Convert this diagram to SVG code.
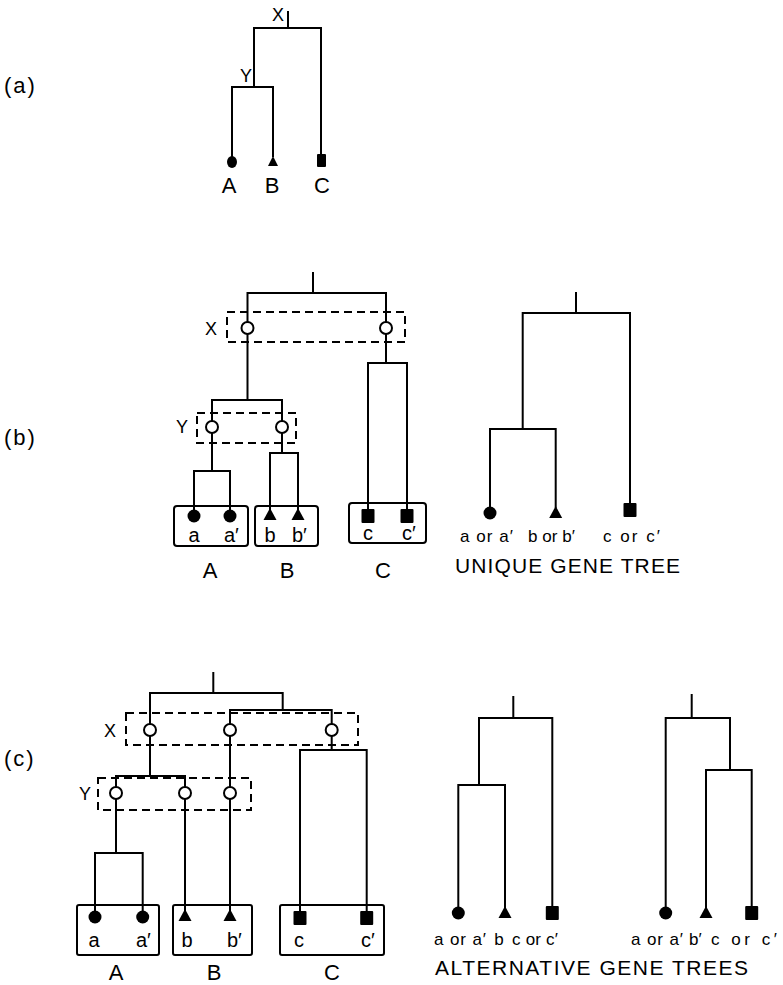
<svg xmlns="http://www.w3.org/2000/svg" xmlns:xlink="http://www.w3.org/1999/xlink" width="783" height="985" viewBox="0 0 783 985">
<style>
.ln{fill:none;stroke:#000;stroke-width:2;stroke-linecap:square}
.dash{fill:none;stroke:#000;stroke-width:2;stroke-dasharray:8 5}
.box{fill:none;stroke:#000;stroke-width:2}
.t{font-family:"Liberation Sans","DejaVu Sans",sans-serif;font-size:22px;fill:#000}
.cap{font-family:"Liberation Sans","DejaVu Sans",sans-serif;font-size:21px;fill:#000}
.n{font-family:"Liberation Sans","DejaVu Sans",sans-serif;font-size:18px;fill:#000}
.s{font-family:"Liberation Sans","DejaVu Sans",sans-serif;font-size:20px;fill:#000}
.g{font-family:"Liberation Sans","DejaVu Sans",sans-serif;font-size:17px;fill:#000}
.m{text-anchor:middle}
</style>
<defs>
<circle id="dot" r="6.5" fill="#000"/>
<path id="tri" d="M0,-7 L6.5,5 H-6.5 Z" fill="#000"/>
<rect id="sq" x="-6.5" y="-7" width="13" height="14" rx="1" fill="#000"/>
<circle id="oc" r="6" fill="#fff" stroke="#000" stroke-width="2"/>
</defs>
<rect width="783" height="985" fill="#fff"/>

<!-- panel labels -->
<text class="t" x="4" y="93" letter-spacing="2">(a)</text>
<text class="t" x="4" y="445" letter-spacing="2">(b)</text>
<text class="t" x="4" y="766" letter-spacing="2">(c)</text>

<!-- ===== (a) ===== -->
<g id="a-connectors">
<path class="ln" d="M288,12 V28"/>
<path class="ln" d="M254,87 V28 H321 V155"/>
<path class="ln" d="M232,157 V87 H273 V156"/>
</g>
<g id="a-X"><text class="n m" x="278" y="21">X</text></g>
<g id="a-Y"><text class="n m" x="246" y="82">Y</text></g>
<g id="a-A"><ellipse cx="232" cy="162" rx="5" ry="6" fill="#000"/><text class="t m" x="229" y="193">A</text></g>
<g id="a-B"><path d="M273,156 L278,166 H268 Z" fill="#000"/><text class="t m" x="272" y="193">B</text></g>
<g id="a-C"><rect x="317" y="154" width="9" height="13" rx="1" fill="#000"/><text class="t m" x="322" y="193">C</text></g>

<!-- ===== (b) left ===== -->
<g id="b-connectors">
<path class="ln" d="M313,273 V293"/>
<path class="ln" d="M247.5,400 V293 H386 V363"/>
<path class="ln" d="M212,471 V400 H282 V453"/>
<path class="ln" d="M194,510 V471 H230 V510"/>
<path class="ln" d="M270,509 V453 H298 V509"/>
<path class="ln" d="M368,509 V363 H407 V509"/>
</g>
<g id="b-X">
<rect class="dash" x="227" y="312" width="178" height="30"/>
<use xlink:href="#oc" x="247.5" y="328"/>
<use xlink:href="#oc" x="386" y="328"/>
<text class="n m" x="211" y="335">X</text>
</g>
<g id="b-Y">
<rect class="dash" x="197" y="413" width="99" height="30"/>
<use xlink:href="#oc" x="212" y="427"/>
<use xlink:href="#oc" x="282" y="427"/>
<text class="n m" x="182" y="433">Y</text>
</g>
<g id="b-A">
<rect class="box" x="174" y="506" width="74" height="40" rx="3"/>
<use xlink:href="#dot" x="194" y="516"/>
<use xlink:href="#dot" x="230" y="516"/>
<text class="s m" x="194" y="542">a</text>
<text class="s" x="224" y="542">a′</text>
<text class="t m" x="210" y="578">A</text>
</g>
<g id="b-B">
<rect class="box" x="255" y="506" width="63" height="40" rx="3"/>
<use xlink:href="#tri" x="270" y="515"/>
<use xlink:href="#tri" x="298" y="515"/>
<text class="s m" x="270" y="542">b</text>
<text class="s" x="292" y="542">b′</text>
<text class="t m" x="287" y="578">B</text>
</g>
<g id="b-C">
<rect class="box" x="349" y="503" width="77" height="40" rx="3"/>
<use xlink:href="#sq" x="368" y="516"/>
<use xlink:href="#sq" x="407" y="516"/>
<text class="s m" x="368" y="540">c</text>
<text class="s" x="402" y="540">c′</text>
<text class="t m" x="383" y="578">C</text>
</g>

<!-- ===== (b) right: unique gene tree ===== -->
<g id="bu-connectors">
<path class="ln" d="M576,293 V313"/>
<path class="ln" d="M522.7,429 V313 H630 V505"/>
<path class="ln" d="M490,507 V429 H555.7 V507"/>
</g>
<g id="bu-a"><use xlink:href="#dot" x="490" y="513"/><text class="g" x="460" y="542" textLength="53" lengthAdjust="spacing">a or a′</text></g>
<g id="bu-b"><use xlink:href="#tri" x="555.7" y="513"/><text class="g" x="528" y="542" textLength="47" lengthAdjust="spacing">b or b′</text></g>
<g id="bu-c"><use xlink:href="#sq" x="630" y="510"/><text class="g" x="603" y="542" textLength="57" lengthAdjust="spacing">c or c′</text></g>
<text class="cap" x="455" y="573" textLength="225" lengthAdjust="spacing">UNIQUE GENE TREE</text>

<!-- ===== (c) left ===== -->
<g id="c-connectors">
<path class="ln" d="M213.3,673 V693"/>
<path class="ln" d="M150,776 V693 H282.7 V710"/>
<path class="ln" d="M230,910 V710 H331.7 V750"/>
<path class="ln" d="M300,911 V750 H366.7 V911"/>
<path class="ln" d="M116,853 V776 H185 V910"/>
<path class="ln" d="M95,911 V853 H142.7 V911"/>
</g>
<g id="c-X">
<rect class="dash" x="126" y="713" width="232" height="32"/>
<use xlink:href="#oc" x="150" y="730"/>
<use xlink:href="#oc" x="230" y="730"/>
<use xlink:href="#oc" x="331.7" y="730"/>
<text class="n m" x="110" y="737">X</text>
</g>
<g id="c-Y">
<rect class="dash" x="98" y="778" width="153" height="32"/>
<use xlink:href="#oc" x="116" y="793"/>
<use xlink:href="#oc" x="185" y="793"/>
<use xlink:href="#oc" x="230" y="793"/>
<text class="n m" x="85" y="800">Y</text>
</g>
<g id="c-A">
<rect class="box" x="77" y="905" width="82" height="50" rx="2"/>
<use xlink:href="#dot" x="95" y="917"/>
<use xlink:href="#dot" x="142.7" y="917"/>
<text class="s m" x="94" y="947">a</text>
<text class="s" x="136" y="947">a′</text>
<text class="t m" x="116" y="980">A</text>
</g>
<g id="c-B">
<rect class="box" x="173" y="905" width="79" height="50" rx="2"/>
<use xlink:href="#tri" x="185" y="916"/>
<use xlink:href="#tri" x="230" y="916"/>
<text class="s m" x="187" y="947">b</text>
<text class="s" x="227" y="947">b′</text>
<text class="t m" x="214" y="980">B</text>
</g>
<g id="c-C">
<rect class="box" x="280" y="905" width="104" height="50" rx="2"/>
<use xlink:href="#sq" x="300" y="918"/>
<use xlink:href="#sq" x="366.7" y="918"/>
<text class="s m" x="299" y="947">c</text>
<text class="s" x="361" y="947">c′</text>
<text class="t m" x="332" y="980">C</text>
</g>

<!-- ===== (c) right: alternative gene trees ===== -->
<g id="g1-connectors">
<path class="ln" d="M513.3,697 V718"/>
<path class="ln" d="M479,785 V718 H552.3 V907"/>
<path class="ln" d="M458.3,907 V785 H505 V907"/>
</g>
<g id="g1-a"><use xlink:href="#dot" x="458.3" y="913"/><text class="g" x="434" y="945" textLength="52" lengthAdjust="spacing">a or a′</text></g>
<g id="g1-b"><use xlink:href="#tri" x="505" y="913"/><text class="g m" x="499" y="945">b</text></g>
<g id="g1-c"><use xlink:href="#sq" x="552.3" y="913"/><text class="g" x="512" y="945" textLength="46" lengthAdjust="spacing">c or c′</text></g>

<g id="g2-connectors">
<path class="ln" d="M691.7,695 V718"/>
<path class="ln" d="M665.7,907 V718 H730 V770"/>
<path class="ln" d="M706,907 V770 H751.7 V907"/>
</g>
<g id="g2-a"><use xlink:href="#dot" x="665.7" y="913"/><text class="g" x="631" y="945" textLength="52" lengthAdjust="spacing">a or a′</text></g>
<g id="g2-b"><use xlink:href="#tri" x="706" y="913"/><text class="g" x="689" y="945">b′</text></g>
<g id="g2-c"><use xlink:href="#sq" x="751.7" y="913"/><text class="g" x="711" y="945" textLength="66" lengthAdjust="spacing">c or c′</text></g>
<text class="cap" x="435" y="975" textLength="313" lengthAdjust="spacing">ALTERNATIVE GENE TREES</text>
</svg>
